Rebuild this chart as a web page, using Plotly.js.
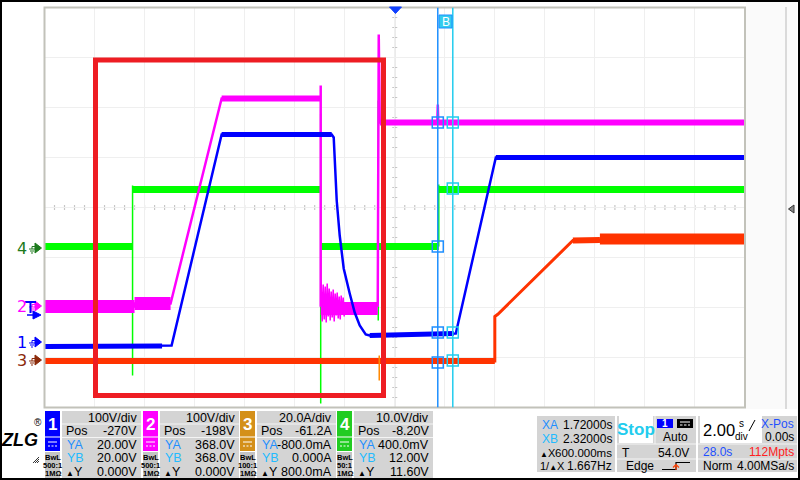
<!DOCTYPE html>
<html><head><meta charset="utf-8">
<script src="https://cdn.plot.ly/plotly-3.0.1.min.js"></script>
<style>html,body{margin:0;padding:0;background:#fff;overflow:hidden}#chart{width:800px;height:480px}</style>
</head><body><div id="chart"></div>
<script>
// ---------- channel settings / readouts ----------
const chNames = ['1','2','3','4'];
const chScale = [100, 100, 20, 10];          // units per division
const chPos = [-270, -198, -61.2, -8.2];     // position offset
const chScaleText = ['100V/div','100V/div','20.0A/div','10.0V/div'];
const chPosText = ['-270V','-198V','-61.2A','-8.20V'];
const chYAText = ['20.00V','368.0V','-800.0mA','400.0mV'];
const chYBText = ['20.00V','368.0V','0.000A','12.00V'];
const chDYText = ['0.000V','0.000V','800.0mA','11.60V'];
const chProbe = ['500:1','500:1','100:1','50:1'];
const cursorYA = [20, 368, -0.8, 0.4];
const cursorYB = [20, 368, 0, 12];
const cursorX = [1.72, 2.32];               // XA, XB (s)
const trigLevel = 54;                       // V on channel 1

// ---------- waveform data (time s, value in channel units) ----------
// CH1 (V)
const ch1T = [-14, -9.3, -8.92, -6.92, -2.52, -2.44, -2.40, -2.32, -2.20, -2.04, -1.80, -1.60, -1.40, -1.16, -1.00, 2.36, 2.44, 4.04, 14];
const ch1V = [-8, -7, -6, 416, 416, 410, 354, 284, 214, 148, 98, 60, 34, 16, 14, 18, 18, 370, 370];
const ch1BandT = [-14, -9.3, null, -6.92, -2.52, null, -1.0, 2.36, null, 4.04, 14];
const ch1BandV = [-8, -7, null, 416, 416, null, 14, 18, null, 370, 370];
// CH2 (V)
const ch2T = [-14, -10.4, -10.4, -8.96, -6.92, -2.96, -2.96, -2.96, -0.68, -0.64, -0.60, 1.70, 1.72, 1.74, 14];
const ch2V = [0, 0, 6, 6, 416, 416, 442, 2, 2, 544, 368, 368, 404, 368, 368];
const ch2NoiseT = [-14, -10.4, null, -10.4, -8.96, null, -2.96, -0.68];
const ch2NoiseV = [0, 0, null, 6, 6, null, -4, -4];
const ch2FlatT = [-6.92, -2.96, null, -0.60, 14];
const ch2FlatV = [416, 416, null, 368, 368];
const ch2BurstT = [-2.94,-2.90,-2.86,-2.82,-2.78,-2.74,-2.70,-2.66,-2.62,-2.58,-2.54,-2.50,-2.46,-2.42,-2.38,-2.34,-2.30,-2.26,-2.22,-2.18,-2.14,-2.10,-2.06,-2.02];
const ch2BurstV = [48,-30,44,-26,40,-32,46,-20,36,-28,30,-22,34,-30,26,-18,28,-24,20,-26,22,-16,18,-20];
// CH3 (A)
const ch3T = [-14, 4.0, 4.0, 4.12, 7.12, 8.2, 14];
const ch3V = [-0.2, -0.2, 17.6, 18.5, 48.0, 48.2, 48.6];
const ch3BaseT = [-14, 4.0, null, 7.12, 8.2];
const ch3BaseV = [-0.2, -0.2, null, 48.0, 48.2];
const ch3FlatT = [8.2, 14];
const ch3FlatV = [48.6, 48.6];
const ch3GlitchT = [-0.62, -0.62];
const ch3GlitchV = [2, -8];
// CH4 (V)
const ch4T = [-14, -10.48, null, -10.48, -2.96, null, -2.96, 1.76, null, 1.76, 14];
const ch4V = [0.4, 0.4, null, 11.8, 11.8, null, 0.4, 0.4, null, 11.8, 11.8];
const ch4GlitchT = [-10.48, -10.48, null, -2.96, -2.96, null, -0.66, -0.66, null, 1.76, 1.76];
const ch4GlitchV = [12.6, -25.4, null, 27, -31, null, 29.6, -14.4, null, 0.4, 12.8];

// ---------- helpers ----------
const FONT = 'Liberation Sans, Arial, sans-serif';
const chColors = ['#0000FF','#FF00FF','#FF3300','#00FF00'];
const chBoxColors = ['#0000FF','#FF00FF','#D4901A','#22CC22'];
const chMarkColors = ['#0000FF','#FF00FF','#8B2A0A','#1E7B1E'];
const PX = x => x/800, PY = y => 1 - y/480;
const dv = (k, v) => v == null ? null : (v + chPos[k]) / chScale[k];
const pixY = d => 207 - 50*d;

function tr(k, t, v, width, color) {
  return {type:'scatter', mode:'lines', x:t, y:v.map(a => dv(k, a)),
    line:{color: color || chColors[k], width: width}, connectgaps:false, hoverinfo:'skip'};
}
function rect(x0, y0, x1, y1, fill, lc, lw, layer) {
  return {type:'rect', xref:'paper', yref:'paper', x0:PX(x0), x1:PX(x1), y0:PY(y1), y1:PY(y0),
    fillcolor: fill || 'rgba(0,0,0,0)', line:{color: lc || 'rgba(0,0,0,0)', width: lw || 0}, layer: layer || 'above'};
}
function path(segs, color, width, fill, layer) {
  let s = '';
  segs.forEach(seg => {
    seg.forEach((p, i) => { s += (i ? 'L' : 'M') + PX(p[0]).toFixed(5) + ',' + PY(p[1]).toFixed(5); });
    if (fill) s += 'Z';
  });
  return {type:'path', xref:'paper', yref:'paper', path:s, line:{color: color, width: width || 1},
    fillcolor: fill || 'rgba(0,0,0,0)', layer: layer || 'above'};
}
function T(x, y, text, o) {
  o = o || {};
  return {xref:'paper', yref:'paper', x:PX(x), y:PY(y), text:text, showarrow:false,
    xanchor:o.a || 'left', yanchor:'middle', borderpad:0,
    font:{family:o.f || FONT, size:o.s || 12, color:o.c || '#000'}};
}

// ---------- traces ----------
const traces = [
  tr(3, ch4T, ch4V, 7), tr(3, ch4GlitchT, ch4GlitchV, 1.5),
  tr(2, ch3T, ch3V, 3), tr(2, ch3BaseT, ch3BaseV, 6), tr(2, ch3FlatT, ch3FlatV, 11), tr(2, ch3GlitchT, ch3GlitchV, 1.5, '#FF8800'),
  tr(1, ch2T, ch2V, 2.5), tr(1, ch2NoiseT, ch2NoiseV, 13), tr(1, ch2FlatT, ch2FlatV, 6), tr(1, ch2BurstT, ch2BurstV, 1.5),
  tr(0, ch1T, ch1V, 2.5), tr(0, ch1BandT, ch1BandV, 5)
];
traces.push({type:'scatter', mode:'markers', x:cursorYA.map(() => cursorX[0]), y:cursorYA.map((v,k) => dv(k, v)),
  marker:{symbol:'square-open', size:11, color:'#1E8FFF', line:{width:1.5}}, hoverinfo:'skip'});
traces.push({type:'scatter', mode:'markers', x:cursorYB.map(() => cursorX[1]), y:cursorYB.map((v,k) => dv(k, v)),
  marker:{symbol:'square-open', size:11, color:'#22CCEE', line:{width:1.5}}, hoverinfo:'skip'});

// ---------- shapes ----------
const shapes = [];
shapes.push(rect(746, 2, 797, 409, '#fafafa', null, 0, 'below'));
shapes.push(path([[[786, 7], [786, 409]]], '#cfcfcf', 1.5, null, 'below'));
let ax = 'M0,-4L0,4M-14,0L14,0';
for (let d = -4; d <= 4.001; d += 0.2) ax += 'M-0.1,' + d.toFixed(2) + 'L0.1,' + d.toFixed(2);
for (let t = -14; t <= 14.001; t += 0.4) ax += 'M' + t.toFixed(2) + ',-0.05L' + t.toFixed(2) + ',0.05';
shapes.push({type:'path', xref:'x', yref:'y', path:ax, line:{color:'#c6c6c6', width:1.2}, layer:'below'});
shapes.push(rect(44.5, 7.5, 745, 407.5, null, '#c2c2ba', 2, 'above'));
cursorX.forEach((cx, i) => shapes.push({type:'line', xref:'x', yref:'y', x0:cx, x1:cx, y0:-4, y1:4,
  line:{color: i ? '#22CCEE' : '#1E8FFF', width:1.5}, layer:'above'}));
shapes.push(rect(439, 15, 452, 28, '#33CCEE', '#1E8FFF', 1));
shapes.push(path([[[389.5, 7], [401.5, 7], [395.5, 13.5]]], '#1040FF', 1, '#1040FF'));
shapes.push(path([[[794, 205], [794, 213], [788.5, 209]]], '#333', 1, '#888'));
shapes.push(rect(95.5, 60, 383.5, 395.5, null, '#EE1D23', 5, 'above'));
const markX = 22;
chNames.forEach((n, k) => {
  const y = pixY(dv(k, 0));
  const c = chMarkColors[k];
  shapes.push(path([[[35, y-5], [41.5, y], [35, y+5]]], c, 1, c));
  shapes.push(path([[[29, y+1], [35, y+1]], [[30, y+3], [34, y+3]], [[31, y+5], [33, y+5]], [[32, y+1], [32, y-1.5], [35, y-1.5]]], c, 1));
});
const ty = pixY(dv(0, trigLevel));
shapes.push(path([[[33, ty-4], [41, ty], [33, ty+4]]], '#0000FF', 1, '#0000FF'));
shapes.push(path([[[27, ty], [34, ty]]], '#0000FF', 1.5));
shapes.push(path([[[25, 302], [36, 302]], [[30.5, 302], [30.5, 313]]], '#0000FF', 2));

// ---------- bottom panel ----------
const annotations = [];
const chBaseX = [45, 143, 240, 337];
chNames.forEach((n, k) => {
  const bx = chBaseX[k];
  shapes.push(rect(bx, 411, bx+15, 436.5, chBoxColors[k]));
  shapes.push(rect(bx, 437.5, bx+15, 451, chBoxColors[k]));
  shapes.push(path([[[bx+3, 442], [bx+12, 442]], [[bx+3, 446], [bx+5, 446]], [[bx+6.5, 446], [bx+8.5, 446]], [[bx+10, 446], [bx+12, 446]]], '#fff', 1.2));
  shapes.push(rect(bx, 452, bx+15, 478, '#c4c4c4'));
  shapes.push(rect(bx+17, 411, bx+96, 478, '#d4d4d4'));
  shapes.push(path([[[bx+17, 424], [bx+96, 424]], [[bx+17, 437.5], [bx+96, 437.5]]], '#f4f4f4', 1));
  annotations.push(T(bx+7.5, 424, '<b>' + n + '</b>', {a:'center', s:17, c:'#fff'}));
  annotations.push(T(bx+7.5, 457, '<b>BwL</b>', {a:'center', s:7.5}));
  annotations.push(T(bx+7.5, 465, '<b>' + chProbe[k] + '</b>', {a:'center', s:7.5}));
  annotations.push(T(bx+7.5, 473, '<b>1MΩ</b>', {a:'center', s:7.5}));
  const r = bx + 93;
  annotations.push(T(r, 417.5, chScaleText[k], {a:'right', s:12.5}));
  annotations.push(T(bx+20, 431, 'Pos', {s:12.5}));
  annotations.push(T(r, 431, chPosText[k], {a:'right', s:12.5}));
  annotations.push(T(bx+21, 444.5, 'YA', {c:'#1E8FFF', s:12.5}));
  annotations.push(T(r, 444.5, chYAText[k], {a:'right', s:12.5}));
  annotations.push(T(bx+21, 458, 'YB', {c:'#22BBFF', s:12.5}));
  annotations.push(T(r, 458, chYBText[k], {a:'right', s:12.5}));
  annotations.push(T(bx+20, 471.5, '<span style="font-size:8px">▲</span>Y', {s:12.5}));
  annotations.push(T(r, 471.5, chDYText[k], {a:'right', s:12.5}));
  annotations.push(T(markX, pixY(dv(k, 0)), n, {a:'center', s:16, c:chMarkColors[k], f:'DejaVu Sans, sans-serif'}));
});

// logo
annotations.push(T(19, 440, '<b><i>ZLG</i></b>', {a:'center', s:18, c:'#000'}));
annotations.push(T(38, 422, '®', {a:'center', s:10}));
shapes.push(path([[[33, 463], [39, 457]], [[35, 463], [39, 459]], [[37, 463], [39, 461]]], '#333', 1));

// cursor box
shapes.push(rect(537, 416, 615, 472, '#d4d4d4'));
annotations.push(T(541, 425, 'XA', {c:'#1E8FFF'}));
annotations.push(T(613, 425, '1.72000s', {a:'right'}));
annotations.push(T(541, 439, 'XB', {c:'#22BBFF'}));
annotations.push(T(613, 439, '2.32000s', {a:'right'}));
annotations.push(T(539, 453, '<span style="font-size:8px">▲</span>X', {s:11}));
annotations.push(T(613, 453, '600.000ms', {a:'right', s:11.5}));
annotations.push(T(539, 466, '1/<span style="font-size:8px">▲</span>X', {s:11}));
annotations.push(T(613, 466, '1.667Hz', {a:'right'}));

// trigger box
shapes.push(rect(617, 416, 696, 472, '#d4d4d4'));
shapes.push(rect(619, 415, 653, 443, '#ffffff'));
annotations.push(T(636, 429, '<b>Stop</b>', {a:'center', s:17, c:'#22CCEE'}));
shapes.push(rect(657, 419, 673, 428, '#0000FF'));
annotations.push(T(665, 423.5, '<b>1</b>', {a:'center', s:10, c:'#fff'}));
shapes.push(rect(677, 419, 693, 428, '#000'));
shapes.push(path([[[680, 422], [690, 422]], [[680, 425], [682.5, 425]], [[684, 425], [686.5, 425]], [[688, 425], [690, 425]]], '#fff', 1));
annotations.push(T(675, 437, 'Auto', {a:'center'}));
shapes.push(path([[[617, 444], [696, 444]], [[617, 459], [696, 459]], [[655, 416], [655, 444]]], '#f4f4f4', 1));
annotations.push(T(621, 452.5, 'T'));
annotations.push(T(690, 452.5, '54.0V', {a:'right'}));
annotations.push(T(640, 466, 'Edge', {a:'center'}));
shapes.push(path([[[662, 469.5], [676, 469.5], [676, 462.5], [690, 462.5]]], '#000', 1.2));
shapes.push(path([[[676, 470], [676, 465]], [[673, 467.5], [676, 464.5], [679, 467.5]]], '#FF4000', 1.2));

// timebase box
shapes.push(rect(698, 416, 797, 472, '#d4d4d4'));
shapes.push(rect(700, 416, 762, 443, '#ffffff'));
annotations.push(T(702, 430, '2.00', {s:16.5}));
annotations.push(T(741, 423, 's', {a:'center', s:10}));
annotations.push(T(741, 436, 'div', {a:'center', s:10}));
shapes.push(path([[[749, 431], [755, 420]]], '#000', 1));
annotations.push(T(795, 424, 'X-Pos', {a:'right', c:'#1E50FF'}));
annotations.push(T(795, 437, '0.00s', {a:'right'}));
shapes.push(path([[[698, 444], [797, 444]], [[698, 459], [797, 459]]], '#f4f4f4', 1));
annotations.push(T(702, 451.5, '28.0s', {c:'#1E50FF'}));
annotations.push(T(795, 451.5, '112Mpts', {a:'right', c:'#FF2020'}));
annotations.push(T(702, 466, 'Norm'));
annotations.push(T(795, 466, '4.00MSa/s', {a:'right'}));

annotations.push(T(445.5, 21.5, 'B', {a:'center', s:12, c:'#fff'}));

shapes.push(rect(1, 1, 799, 479, null, '#000', 2));

const layout = {
  width: 800, height: 480, margin:{l:0, r:0, t:0, b:0},
  paper_bgcolor:'#ffffff', plot_bgcolor:'#ffffff', showlegend:false,
  xaxis:{domain:[PX(44.5), PX(745)], range:[-14, 14], dtick:2, tick0:0, showgrid:true, gridcolor:'#efefef', gridwidth:1,
    zeroline:false, showticklabels:false, ticks:'', showline:false, fixedrange:true},
  yaxis:{domain:[PY(407.5), PY(7.5)], range:[-4, 4], dtick:1, tick0:0, showgrid:true, gridcolor:'#efefef', gridwidth:1,
    zeroline:false, showticklabels:false, ticks:'', showline:false, fixedrange:true},
  shapes: shapes, annotations: annotations
};
Plotly.newPlot('chart', traces, layout, {staticPlot:true, displayModeBar:false});
</script>
</body></html>
